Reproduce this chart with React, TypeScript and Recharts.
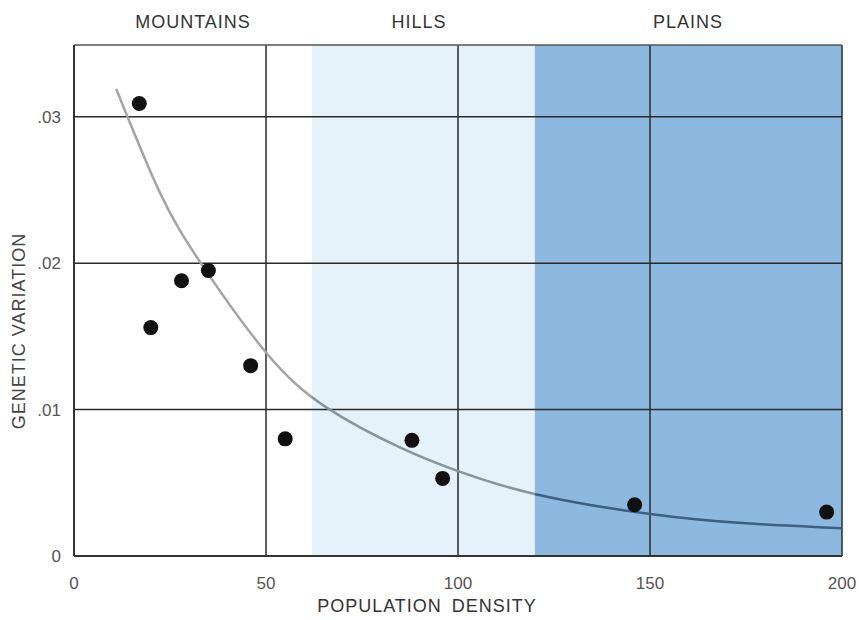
import React from 'react';
import {
  ComposedChart, XAxis, YAxis, Scatter, Line, ReferenceArea, ReferenceLine,
} from 'recharts';

// sampled populations (density, genetic variation)
const densities = [17, 20, 28, 35, 46, 55, 88, 96, 146, 196];
const variations = [0.0309, 0.0156, 0.0188, 0.0195, 0.0130, 0.0080, 0.0079, 0.0053, 0.0035, 0.0030];

// fitted curve
const curveX = [11, 22.4, 33.3, 50, 66, 85, 100, 120.5, 150, 175, 200];
const curveY = [0.0319, 0.0248, 0.0199, 0.0139, 0.0101, 0.0074, 0.0058, 0.0042, 0.00287, 0.00223, 0.00189];

const xTicks = [0, 50, 100, 150, 200];
const yTicks = [0, 0.01, 0.02, 0.03];

// terrain bands: [label, from, to]
const zones: [string, number, number][] = [
  ['MOUNTAINS', 0, 62],
  ['HILLS', 62, 120],
  ['PLAINS', 120, 200],
];
const zoneFills = ['transparent', '#e6f2f9', '#8db9e1'];
const zoneLabelX = [193, 419, 688];

const Y_MAX = 0.0349;
const FONT = '"Liberation Sans", Arial, sans-serif';

const points = densities.map((d, i) => ({ x: d, y: variations[i] }));
const curve = curveX.map((x, i) => ({ x, y: curveY[i] }));

const fmtY = (v: number) => (v === 0 ? '0' : '.' + Math.round(v * 100).toString().padStart(2, '0'));

const Dot = (props: any) => <circle cx={props.cx} cy={props.cy} r={7.5} fill="#111" />;

export default function App() {
  const tick = { fill: '#555', fontSize: 17, fontFamily: FONT };
  return (
    <div style={{ position: 'absolute', left: 0, top: 0, width: 859, height: 620, background: '#fff', fontFamily: FONT }}>
      <ComposedChart width={859} height={620} margin={{ top: 45, right: 17, left: 0, bottom: 24 }}>
        <defs>
          <linearGradient id="curveStroke" gradientUnits="userSpaceOnUse" x1={74} y1={0} x2={842} y2={0}>
            <stop offset="0" stopColor="#a4a4a4" />
            <stop offset="0.31" stopColor="#a4a4a4" />
            <stop offset="0.31" stopColor="#8595a0" />
            <stop offset="0.6" stopColor="#8595a0" />
            <stop offset="0.6" stopColor="#3d5f80" />
            <stop offset="1" stopColor="#3d5f80" />
          </linearGradient>
        </defs>
        <XAxis
          type="number" dataKey="x" domain={[0, 200]} ticks={xTicks} height={40}
          tickLine={false} tickSize={0} tickMargin={21} tick={tick}
          axisLine={{ stroke: '#333', strokeWidth: 2 }} allowDuplicatedCategory={false}
        />
        <YAxis
          type="number" dataKey="y" domain={[0, Y_MAX]} ticks={yTicks} width={74}
          tickLine={false} tickSize={0} tickMargin={13} tick={tick} tickFormatter={fmtY}
          axisLine={{ stroke: '#333', strokeWidth: 2 }} allowDataOverflow
        />
        {zones.map(([name, from, to], i) => (
          <ReferenceArea key={name} x1={from} x2={to} y1={0} y2={Y_MAX} fill={zoneFills[i]} fillOpacity={1} stroke="none" />
        ))}
        {[50, 100, 150].map(v => (
          <ReferenceLine key={'vx' + v} x={v} stroke="#2a2a2a" strokeWidth={1.5} />
        ))}
        {[0.01, 0.02, 0.03].map(v => (
          <ReferenceLine key={'hy' + v} y={v} stroke="#2a2a2a" strokeWidth={1.5} />
        ))}
        <ReferenceLine x={200} stroke="#2a2a2a" strokeWidth={1.5} />
        <ReferenceLine y={Y_MAX} stroke="#555" strokeWidth={1.5} />
        <Line
          data={curve} dataKey="y" type="natural" stroke="url(#curveStroke)" strokeWidth={2.5}
          dot={false} activeDot={false} isAnimationActive={false}
        />
        <Scatter data={points} dataKey="y" shape={<Dot />} isAnimationActive={false} />
      </ComposedChart>
      {zones.map(([name], i) => (
        <div key={name} style={{
          position: 'absolute', top: 12, left: zoneLabelX[i] - 100, width: 200, textAlign: 'center',
          fontSize: 18, color: '#333', letterSpacing: 1,
        }}>{name}</div>
      ))}
      <div style={{
        position: 'absolute', top: 596, left: 227, width: 400, textAlign: 'center',
        fontSize: 18, color: '#333', letterSpacing: 1, wordSpacing: 4,
      }}>POPULATION DENSITY</div>
      <div style={{
        position: 'absolute', left: 19, top: 331, width: 260, height: 22, marginLeft: -130, marginTop: -11,
        transform: 'rotate(-90deg)', textAlign: 'center', fontSize: 18, color: '#444', letterSpacing: 1,
        lineHeight: '22px',
      }}>GENETIC VARIATION</div>
    </div>
  );
}
